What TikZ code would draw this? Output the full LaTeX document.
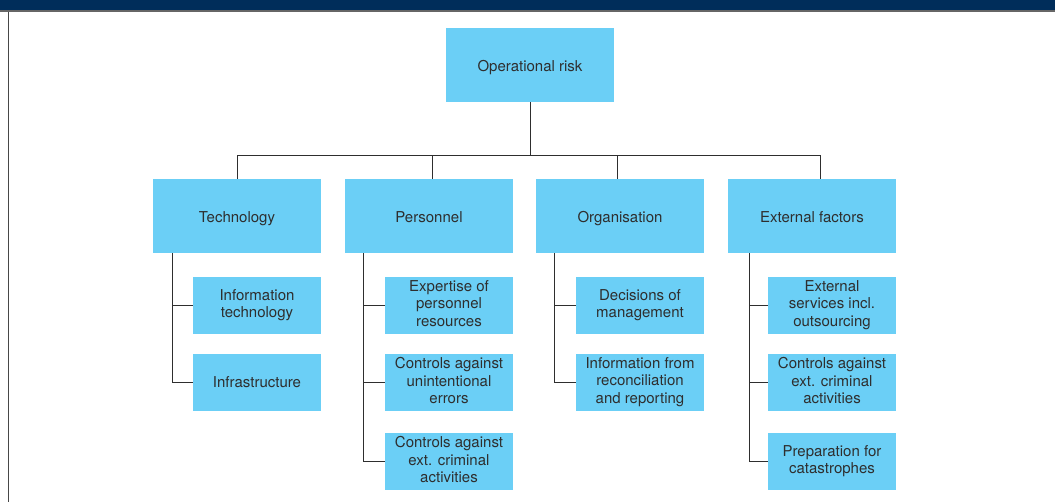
\documentclass[tikz,border=0pt]{standalone}
\usepackage{fontspec}
\setmainfont{TeX Gyre Heros}
\definecolor{boxblue}{HTML}{6BCFF6}
\definecolor{navy}{HTML}{002D5A}
\definecolor{inkgray}{HTML}{2E2E2E}
\definecolor{framegray}{HTML}{666666}
\begin{document}
\begin{tikzpicture}[x=1pt,y=-1pt,
  box/.style={fill=boxblue, text=inkgray, align=center, inner sep=0pt,
    font=\fontsize{15}{17.5}\selectfont,
    % fixed first-line height and last-line depth keep every label placed alike
    execute at begin node={\rule{0pt}{14pt}},
    execute at end node={\rule[-4pt]{0pt}{4pt}}},
  mainbox/.style={box, minimum width=168pt, minimum height=74pt,
    execute at begin node={\rule{0pt}{17pt}}},
  subbox/.style={box, minimum width=128pt, minimum height=57pt},
  link/.style={draw=inkgray, line width=1pt}]
\useasboundingbox (0,0) rectangle (1055,502);

% header band and frame
\fill[navy] (0,0) rectangle (1055,10);
\fill[framegray] (0,10) rectangle (1055,12);
\draw[framegray!70!black, line width=1.5pt] (8.5,12) -- (8.5,502);

% root and first level
\node[mainbox] (root) at (530,65) {Operational risk};
\node[mainbox] (tech) at (237,216) {Technology};
\node[mainbox] (pers) at (429,216) {Personnel};
\node[mainbox] (org)  at (620,216) {Organisation};
\node[mainbox] (ext)  at (812,216) {External factors};

% second level
\node[subbox] (tech1) at (257,305.5) {Information\\technology};
\node[subbox] (tech2) at (257,382.5) {Infrastructure};

\node[subbox] (pers1) at (449,305.5) {Expertise of\\personnel\\resources};
\node[subbox] (pers2) at (449,382.5) {Controls against\\unintentional\\errors};
\node[subbox] (pers3) at (449,461.5) {Controls against\\ext. criminal\\activities};

\node[subbox] (org1) at (640,305.5) {Decisions of\\management};
\node[subbox] (org2) at (640,382.5) {Information from\\reconciliation\\and reporting};

\node[subbox] (ext1) at (832,305.5) {External\\services incl.\\outsourcing};
\node[subbox] (ext2) at (832,382.5) {Controls against\\ext. criminal\\activities};
\node[subbox] (ext3) at (832,461.5) {Preparation for\\catastrophes};

% bus between root and first level
\coordinate (bus) at (530,155.5);
\coordinate (persTop) at ([xshift=3pt]pers.north);
\coordinate (orgTop)  at ([xshift=-3pt]org.north);
\coordinate (extTop)  at ([xshift=8.5pt]ext.north);
\draw[link] (root.south) -- (root.south |- bus);
\draw[link] (tech.north) |- (bus) -| (extTop);
\draw[link] (persTop) -- (persTop |- bus);
\draw[link] (orgTop) -- (orgTop |- bus);

% trunks to second level
\coordinate (techT) at ([xshift=20pt]tech.south west);
\coordinate (persT) at ([xshift=18.5pt]pers.south west);
\coordinate (orgT)  at ([xshift=19pt]org.south west);
\coordinate (extT)  at ([xshift=22pt]ext.south west);
\draw[link] (techT) |- (tech1.west);
\draw[link] (techT) |- (tech2.west);
\draw[link] (persT) |- (pers1.west);
\draw[link] (persT) |- (pers2.west);
\draw[link] (persT) |- (pers3.west);
\draw[link] (orgT) |- (org1.west);
\draw[link] (orgT) |- (org2.west);
\draw[link] (extT) |- (ext1.west);
\draw[link] (extT) |- (ext2.west);
\draw[link] (extT) |- (ext3.west);
\end{tikzpicture}
\end{document}
